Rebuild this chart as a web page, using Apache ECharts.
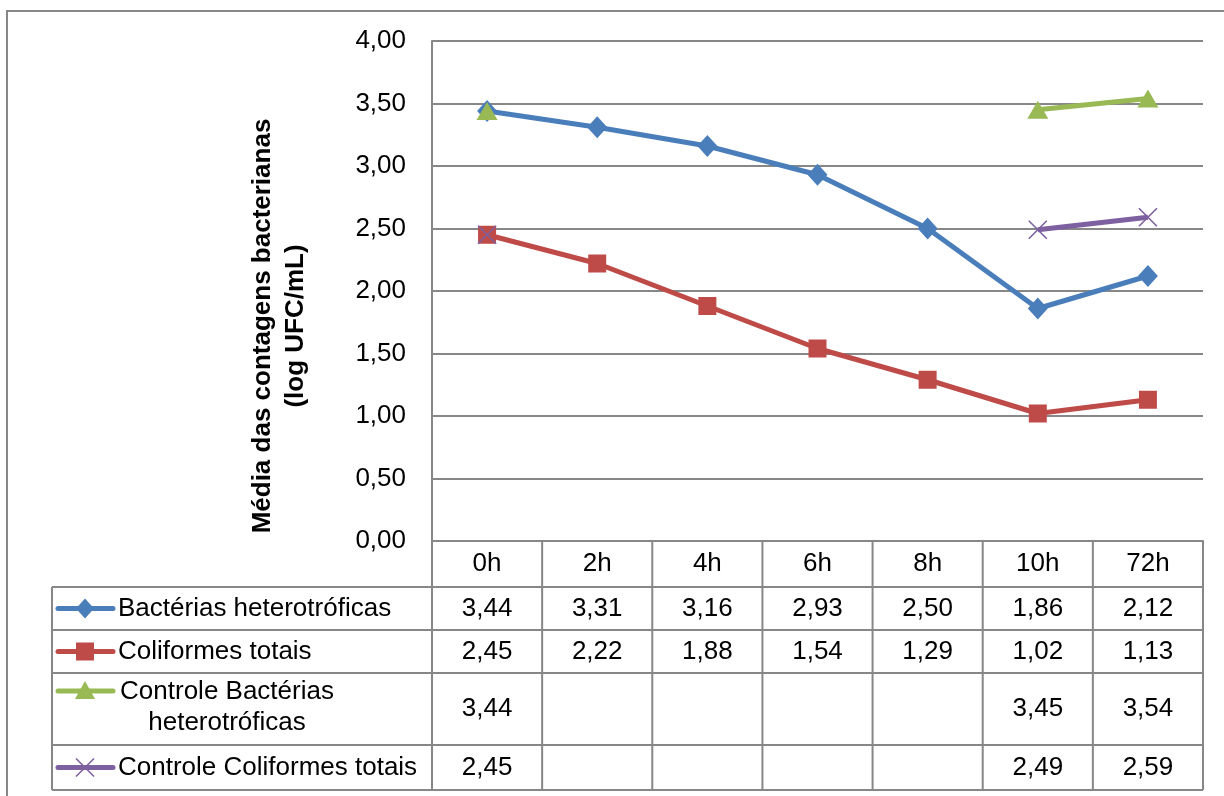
<!DOCTYPE html>
<html><head><meta charset="utf-8">
<script src="https://cdn.jsdelivr.net/npm/echarts@6/dist/echarts.min.js"></script>
<style>html,body{margin:0;padding:0;background:#fff}#c{width:1224px;height:796px}</style>
</head><body><div id="c"></div>
<script>
const categories = ['0h','2h','4h','6h','8h','10h','72h'];
const seriesNames = ['Bactérias heterotróficas','Coliformes totais','Controle Bactérias\nheterotróficas','Controle Coliformes totais'];
const heterotroficas = [3.44,3.31,3.16,2.93,2.50,1.86,2.12];
const coliformes = [2.45,2.22,1.88,1.54,1.29,1.02,1.13];
const controleHetero = [3.44,null,null,null,null,3.45,3.54];
const controleColi = [2.45,null,null,null,null,2.49,2.59];
const colors = ['#4A7EBB','#BE4B48','#98B954','#7D60A0'];
const yTicks = [0,0.5,1,1.5,2,2.5,3,3.5,4];

const allData = [heterotroficas, coliformes, controleHetero, controleColi];
const FONT = '"Liberation Sans", Arial, sans-serif';
const FS = 26;
const GRID = '#878787';
const fmt = v => (v == null ? '' : v.toFixed(2).replace('.', ','));
const X_PATH = 'path://M0,0L10,10M10,0L0,10';
const symbols = ['diamond','rect','triangle',X_PATH];
const symSizes = [[20,22],18,[21,18],18];

const chart = echarts.init(document.getElementById('c'), null, {renderer:'canvas'});
const option = {
  animation:false,
  backgroundColor:'#fff',
  grid:{left:432,right:21,top:41,bottom:255,containLabel:false},
  xAxis:{type:'category',data:categories,boundaryGap:true,
    axisLine:{show:true,lineStyle:{color:GRID,width:2}},
    axisTick:{show:false},
    axisLabel:{show:true,margin:10,fontSize:FS,color:'#000',fontFamily:FONT},
    splitLine:{show:false}},
  yAxis:{type:'value',min:yTicks[0],max:yTicks[yTicks.length-1],interval:0.5,
    name:'Média das contagens bacterianas\n(log UFC/mL)',nameLocation:'middle',nameGap:120,nameRotate:90,
    nameTextStyle:{fontSize:FS,fontWeight:'bold',color:'#000',fontFamily:FONT,lineHeight:33,align:'center',padding:[0,70,0,0]},
    axisLine:{show:true,lineStyle:{color:GRID,width:2}},
    axisTick:{show:false},
    axisLabel:{fontSize:FS,color:'#000',fontFamily:FONT,margin:26,formatter:v=>v.toFixed(2).replace('.',',')},
    splitLine:{show:true,lineStyle:{color:GRID,width:2}}},
  series: allData.map((d,i)=>({
    name:seriesNames[i],type:'line',data:d,connectNulls:false,
    symbol:symbols[i],symbolSize:symSizes[i],showSymbol:true,showAllSymbol:true,
    lineStyle:{color:colors[i],width:5},
    itemStyle:i===3?{color:'rgba(0,0,0,0)',borderColor:colors[i],borderWidth:1.6}:{color:colors[i],borderColor:colors[i],borderWidth:0},
    z:2+i
  }))
};
chart.setOption(option);

// Data table drawn below the plot, aligned with category axis
const g = [];
const cx = categories.map((c,i)=>chart.convertToPixel({xAxisIndex:0},i));
const bw = cx[1]-cx[0];
const y0 = chart.convertToPixel({yAxisIndex:0},0);
const rowEdges = [y0, y0+46, y0+89, y0+132, y0+204, y0+249];
const tableLeft = 52, colRight = cx[cx.length-1]+bw/2;
const line = (x1,y1,x2,y2)=>({type:'line',shape:{x1,y1,x2,y2},style:{stroke:GRID,lineWidth:2},z:10});
// outer border
g.push({type:'rect',shape:{x:7,y:11,width:1240,height:800},style:{fill:'none',stroke:GRID,lineWidth:2},z:1});
// vertical column lines
for(let i=0;i<=categories.length;i++){
  const x = cx[0]-bw/2+i*bw;
  g.push(line(x,rowEdges[0],x,rowEdges[rowEdges.length-1]));
}
g.push(line(tableLeft,rowEdges[1],tableLeft,rowEdges[rowEdges.length-1]));
for(let r=1;r<rowEdges.length;r++) g.push(line(tableLeft,rowEdges[r],colRight,rowEdges[r]));
// values and legend keys
allData.forEach((d,r)=>{
  const yc = (rowEdges[r+1]+rowEdges[r+2])/2;
  d.forEach((v,i)=>{
    g.push({type:'text',x:cx[i],y:yc,style:{text:fmt(v),font:FS+'px '+FONT,fill:'#000',align:'center',verticalAlign:'middle'},z:11});
  });
  const two = seriesNames[r].indexOf('\n')>=0;
  const ky = two ? rowEdges[r+1]+18 : yc;
  g.push({type:'line',shape:{x1:58,y1:ky,x2:113,y2:ky},style:{stroke:colors[r],lineWidth:5,lineCap:'round'},z:11});
  const mx=85;
  if(r===0) g.push({type:'polygon',shape:{points:[[mx,ky-10],[mx+9,ky],[mx,ky+10],[mx-9,ky]]},style:{fill:colors[r]},z:12});
  if(r===1) g.push({type:'rect',shape:{x:mx-9,y:ky-9,width:18,height:18},style:{fill:colors[r]},z:12});
  if(r===2) g.push({type:'polygon',shape:{points:[[mx,ky-10],[mx+10,ky+8],[mx-10,ky+8]]},style:{fill:colors[r]},z:12});
  if(r===3){
    g.push({type:'line',shape:{x1:mx-9,y1:ky-9,x2:mx+9,y2:ky+9},style:{stroke:colors[r],lineWidth:1.6},z:12});
    g.push({type:'line',shape:{x1:mx+9,y1:ky-9,x2:mx-9,y2:ky+9},style:{stroke:colors[r],lineWidth:1.6},z:12});
  }
  if(two){
    g.push({type:'text',x:227,y:rowEdges[r+1]+3,style:{text:seriesNames[r],font:FS+'px '+FONT,fill:'#000',align:'center',verticalAlign:'top',lineHeight:31},z:11});
  } else {
    g.push({type:'text',x:118,y:yc,style:{text:seriesNames[r],font:FS+'px '+FONT,fill:'#000',align:'left',verticalAlign:'middle'},z:11});
  }
});
chart.setOption({graphic:g});
</script></body></html>
